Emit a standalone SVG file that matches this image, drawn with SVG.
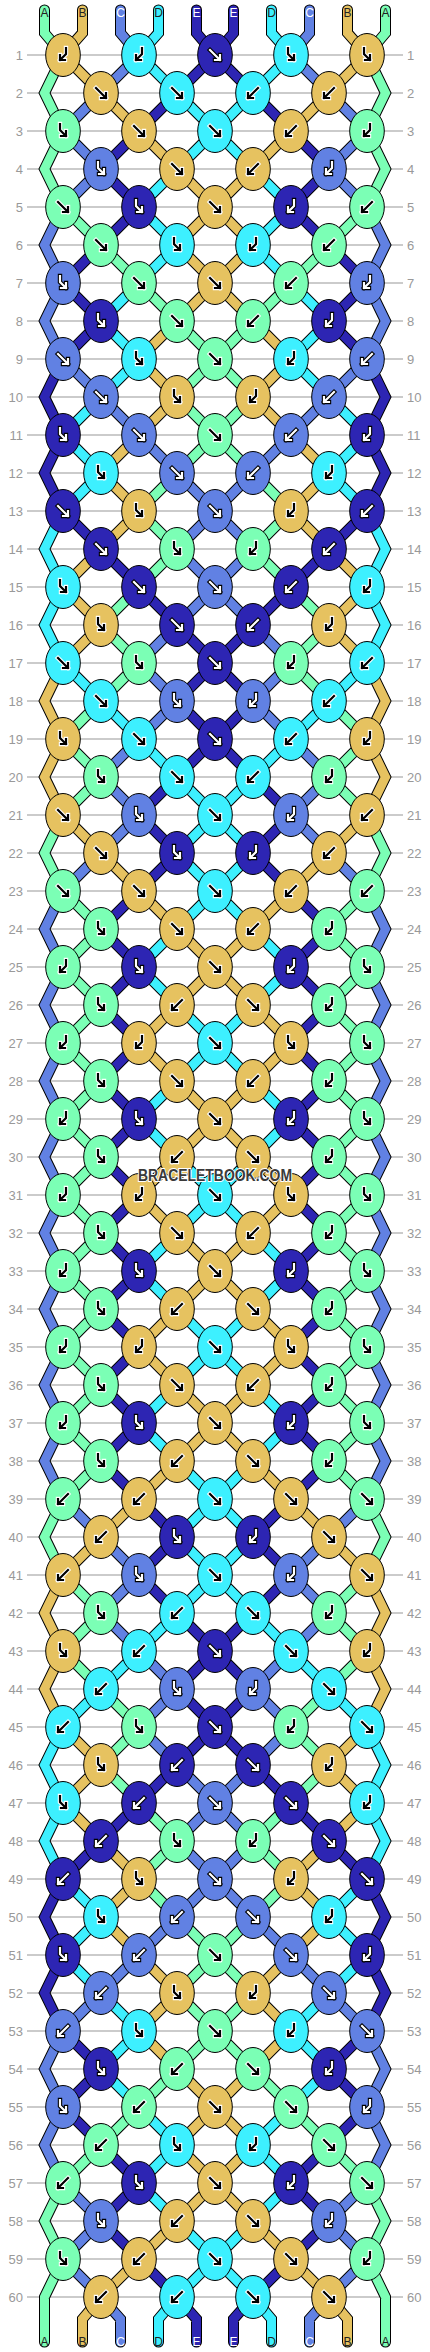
<svg xmlns="http://www.w3.org/2000/svg" xmlns:xlink="http://www.w3.org/1999/xlink" width="430" height="2352" viewBox="0 0 430 2352">
<style>
.grid{stroke:#bbb;stroke-width:1.5;fill:none}
.num{font:13px "Liberation Sans",Arial,sans-serif;fill:#999}
.o use{fill:none;stroke:#000;stroke-width:11;stroke-linejoin:miter;stroke-linecap:round}
.s use{fill:none;stroke-width:9;stroke-linejoin:miter;stroke-linecap:round}
.lab{font:12px "Liberation Sans",Arial,sans-serif;text-anchor:middle}
</style>
<defs>
<path id="tA" d="M44.5 10V33L63 55L44.5 93L63 131L44.5 169L63 207L101 245L139 283L177 321L215 359L177 397L215 435L177 473L139 511L177 549L139 587L101 625L139 663L101 701L63 739L101 777L63 815L44.5 853L63 891L101 929L63 967L101 1005L63 1043L101 1081L63 1119L101 1157L63 1195L101 1233L63 1271L101 1309L63 1347L101 1385L63 1423L101 1461L63 1499L44.5 1537L63 1575L101 1613L63 1651L101 1689L139 1727L101 1765L139 1803L177 1841L139 1879L177 1917L215 1955L177 1993L215 2031L177 2069L139 2107L101 2145L63 2183L44.5 2221L63 2259L44.5 2297V2342"/>
<path id="tB" d="M82.5 10V33L63 55L101 93L139 131L177 169L215 207L177 245L215 283L177 321L139 359L177 397L139 435L101 473L139 511L101 549L63 587L101 625L63 663L44.5 701L63 739L44.5 777L63 815L101 853L139 891L177 929L215 967L177 1005L139 1043L177 1081L215 1119L177 1157L139 1195L177 1233L215 1271L177 1309L139 1347L177 1385L215 1423L177 1461L139 1499L101 1537L63 1575L44.5 1613L63 1651L44.5 1689L63 1727L101 1765L63 1803L101 1841L139 1879L101 1917L139 1955L177 1993L139 2031L177 2069L215 2107L177 2145L215 2183L177 2221L139 2259L101 2297L82.5 2319V2342"/>
<path id="tC" d="M120.5 10V33L139 55L101 93L63 131L101 169L63 207L44.5 245L63 283L44.5 321L63 359L101 397L139 435L177 473L215 511L177 549L215 587L177 625L139 663L177 701L139 739L101 777L139 815L101 853L63 891L44.5 929L63 967L44.5 1005L63 1043L44.5 1081L63 1119L44.5 1157L63 1195L44.5 1233L63 1271L44.5 1309L63 1347L44.5 1385L63 1423L44.5 1461L63 1499L101 1537L139 1575L101 1613L139 1651L177 1689L139 1727L177 1765L215 1803L177 1841L215 1879L177 1917L139 1955L101 1993L63 2031L44.5 2069L63 2107L44.5 2145L63 2183L101 2221L63 2259L101 2297L120.5 2319V2342"/>
<path id="tD" d="M158.5 10V33L139 55L177 93L215 131L177 169L139 207L177 245L139 283L101 321L139 359L101 397L63 435L101 473L63 511L44.5 549L63 587L44.5 625L63 663L101 701L139 739L177 777L215 815L177 853L215 891L177 929L139 967L177 1005L215 1043L177 1081L139 1119L177 1157L215 1195L177 1233L139 1271L177 1309L215 1347L177 1385L139 1423L177 1461L215 1499L177 1537L215 1575L177 1613L139 1651L101 1689L63 1727L44.5 1765L63 1803L44.5 1841L63 1879L101 1917L63 1955L101 1993L139 2031L101 2069L139 2107L177 2145L139 2183L177 2221L215 2259L177 2297L158.5 2319V2342"/>
<path id="tE" d="M196.5 10V33L215 55L177 93L139 131L101 169L139 207L101 245L63 283L101 321L63 359L44.5 397L63 435L44.5 473L63 511L101 549L139 587L177 625L215 663L177 701L215 739L177 777L139 815L177 853L139 891L101 929L139 967L101 1005L139 1043L101 1081L139 1119L101 1157L139 1195L101 1233L139 1271L101 1309L139 1347L101 1385L139 1423L101 1461L139 1499L177 1537L139 1575L177 1613L215 1651L177 1689L215 1727L177 1765L139 1803L101 1841L63 1879L44.5 1917L63 1955L44.5 1993L63 2031L101 2069L63 2107L101 2145L139 2183L101 2221L139 2259L177 2297L196.5 2319V2342"/>
<ellipse id="ka" rx="17.3" ry="21.5" fill="#7BFFB5" stroke="#000"/>
<ellipse id="kb" rx="17.3" ry="21.5" fill="#E6C260" stroke="#000"/>
<ellipse id="kc" rx="17.3" ry="21.5" fill="#6181E3" stroke="#000"/>
<ellipse id="kd" rx="17.3" ry="21.5" fill="#3DF0FF" stroke="#000"/>
<ellipse id="ke" rx="17.3" ry="21.5" fill="#2D25B3" stroke="#000"/>
<path id="pF" fill="none" stroke-linecap="square" d="M-5 -5L5 5M5 0V5H0"/>
<path id="pB" fill="none" stroke-linecap="square" d="M5 -5L-5 5M-5 0V5H0"/>
<path id="pFB" fill="none" stroke-linecap="square" d="M-3 -7V-1L3 5M3 0V5H-2"/>
<path id="pBF" fill="none" stroke-linecap="square" d="M3 -7V-1L-3 5M-3 0V5H2"/>
<g id="FK" stroke="#fff" color="#000"><use href="#pF" stroke-width="4.4"/><use href="#pF" stroke="currentColor" stroke-width="2.2"/></g>
<g id="BK" stroke="#fff" color="#000"><use href="#pB" stroke-width="4.4"/><use href="#pB" stroke="currentColor" stroke-width="2.2"/></g>
<g id="FBK" stroke="#fff" color="#000"><use href="#pFB" stroke-width="4.4"/><use href="#pFB" stroke="currentColor" stroke-width="2.2"/></g>
<g id="BFK" stroke="#fff" color="#000"><use href="#pBF" stroke-width="4.4"/><use href="#pBF" stroke="currentColor" stroke-width="2.2"/></g>
<g id="FW" stroke="#000" color="#fff"><use href="#pF" stroke-width="4.4"/><use href="#pF" stroke="currentColor" stroke-width="2.2"/></g>
<g id="BW" stroke="#000" color="#fff"><use href="#pB" stroke-width="4.4"/><use href="#pB" stroke="currentColor" stroke-width="2.2"/></g>
<g id="FBW" stroke="#000" color="#fff"><use href="#pFB" stroke-width="4.4"/><use href="#pFB" stroke="currentColor" stroke-width="2.2"/></g>
<g id="BFW" stroke="#000" color="#fff"><use href="#pBF" stroke-width="4.4"/><use href="#pBF" stroke="currentColor" stroke-width="2.2"/></g>
<g id="aF"><use href="#ka"/><use href="#FK"/></g>
<g id="aB"><use href="#ka"/><use href="#BK"/></g>
<g id="aFB"><use href="#ka"/><use href="#FBK"/></g>
<g id="aBF"><use href="#ka"/><use href="#BFK"/></g>
<g id="bF"><use href="#kb"/><use href="#FK"/></g>
<g id="bB"><use href="#kb"/><use href="#BK"/></g>
<g id="bFB"><use href="#kb"/><use href="#FBK"/></g>
<g id="bBF"><use href="#kb"/><use href="#BFK"/></g>
<g id="dF"><use href="#kd"/><use href="#FK"/></g>
<g id="dB"><use href="#kd"/><use href="#BK"/></g>
<g id="dFB"><use href="#kd"/><use href="#FBK"/></g>
<g id="dBF"><use href="#kd"/><use href="#BFK"/></g>
<g id="cF"><use href="#kc"/><use href="#FW"/></g>
<g id="cB"><use href="#kc"/><use href="#BW"/></g>
<g id="cFB"><use href="#kc"/><use href="#FBW"/></g>
<g id="cBF"><use href="#kc"/><use href="#BFW"/></g>
<g id="eF"><use href="#ke"/><use href="#FW"/></g>
<g id="eB"><use href="#ke"/><use href="#BW"/></g>
<g id="eFB"><use href="#ke"/><use href="#FBW"/></g>
<g id="eBF"><use href="#ke"/><use href="#BFW"/></g>
</defs>
<rect width="430" height="2352" fill="#fff"/>
<path class="grid" d="M27 55H403M27 93H403M27 131H403M27 169H403M27 207H403M27 245H403M27 283H403M27 321H403M27 359H403M27 397H403M27 435H403M27 473H403M27 511H403M27 549H403M27 587H403M27 625H403M27 663H403M27 701H403M27 739H403M27 777H403M27 815H403M27 853H403M27 891H403M27 929H403M27 967H403M27 1005H403M27 1043H403M27 1081H403M27 1119H403M27 1157H403M27 1195H403M27 1233H403M27 1271H403M27 1309H403M27 1347H403M27 1385H403M27 1423H403M27 1461H403M27 1499H403M27 1537H403M27 1575H403M27 1613H403M27 1651H403M27 1689H403M27 1727H403M27 1765H403M27 1803H403M27 1841H403M27 1879H403M27 1917H403M27 1955H403M27 1993H403M27 2031H403M27 2069H403M27 2107H403M27 2145H403M27 2183H403M27 2221H403M27 2259H403M27 2297H403"/>
<g class="num" text-anchor="end">
<text x="23" y="59.5">1</text><text x="23" y="97.5">2</text><text x="23" y="135.5">3</text><text x="23" y="173.5">4</text><text x="23" y="211.5">5</text><text x="23" y="249.5">6</text><text x="23" y="287.5">7</text><text x="23" y="325.5">8</text><text x="23" y="363.5">9</text><text x="23" y="401.5">10</text><text x="23" y="439.5">11</text><text x="23" y="477.5">12</text><text x="23" y="515.5">13</text><text x="23" y="553.5">14</text><text x="23" y="591.5">15</text><text x="23" y="629.5">16</text><text x="23" y="667.5">17</text><text x="23" y="705.5">18</text><text x="23" y="743.5">19</text><text x="23" y="781.5">20</text><text x="23" y="819.5">21</text><text x="23" y="857.5">22</text><text x="23" y="895.5">23</text><text x="23" y="933.5">24</text><text x="23" y="971.5">25</text><text x="23" y="1009.5">26</text><text x="23" y="1047.5">27</text><text x="23" y="1085.5">28</text><text x="23" y="1123.5">29</text><text x="23" y="1161.5">30</text><text x="23" y="1199.5">31</text><text x="23" y="1237.5">32</text><text x="23" y="1275.5">33</text><text x="23" y="1313.5">34</text><text x="23" y="1351.5">35</text><text x="23" y="1389.5">36</text><text x="23" y="1427.5">37</text><text x="23" y="1465.5">38</text><text x="23" y="1503.5">39</text><text x="23" y="1541.5">40</text><text x="23" y="1579.5">41</text><text x="23" y="1617.5">42</text><text x="23" y="1655.5">43</text><text x="23" y="1693.5">44</text><text x="23" y="1731.5">45</text><text x="23" y="1769.5">46</text><text x="23" y="1807.5">47</text><text x="23" y="1845.5">48</text><text x="23" y="1883.5">49</text><text x="23" y="1921.5">50</text><text x="23" y="1959.5">51</text><text x="23" y="1997.5">52</text><text x="23" y="2035.5">53</text><text x="23" y="2073.5">54</text><text x="23" y="2111.5">55</text><text x="23" y="2149.5">56</text><text x="23" y="2187.5">57</text><text x="23" y="2225.5">58</text><text x="23" y="2263.5">59</text><text x="23" y="2301.5">60</text>
</g>
<g class="num" text-anchor="start">
<text x="407" y="59.5">1</text><text x="407" y="97.5">2</text><text x="407" y="135.5">3</text><text x="407" y="173.5">4</text><text x="407" y="211.5">5</text><text x="407" y="249.5">6</text><text x="407" y="287.5">7</text><text x="407" y="325.5">8</text><text x="407" y="363.5">9</text><text x="407" y="401.5">10</text><text x="407" y="439.5">11</text><text x="407" y="477.5">12</text><text x="407" y="515.5">13</text><text x="407" y="553.5">14</text><text x="407" y="591.5">15</text><text x="407" y="629.5">16</text><text x="407" y="667.5">17</text><text x="407" y="705.5">18</text><text x="407" y="743.5">19</text><text x="407" y="781.5">20</text><text x="407" y="819.5">21</text><text x="407" y="857.5">22</text><text x="407" y="895.5">23</text><text x="407" y="933.5">24</text><text x="407" y="971.5">25</text><text x="407" y="1009.5">26</text><text x="407" y="1047.5">27</text><text x="407" y="1085.5">28</text><text x="407" y="1123.5">29</text><text x="407" y="1161.5">30</text><text x="407" y="1199.5">31</text><text x="407" y="1237.5">32</text><text x="407" y="1275.5">33</text><text x="407" y="1313.5">34</text><text x="407" y="1351.5">35</text><text x="407" y="1389.5">36</text><text x="407" y="1427.5">37</text><text x="407" y="1465.5">38</text><text x="407" y="1503.5">39</text><text x="407" y="1541.5">40</text><text x="407" y="1579.5">41</text><text x="407" y="1617.5">42</text><text x="407" y="1655.5">43</text><text x="407" y="1693.5">44</text><text x="407" y="1731.5">45</text><text x="407" y="1769.5">46</text><text x="407" y="1807.5">47</text><text x="407" y="1845.5">48</text><text x="407" y="1883.5">49</text><text x="407" y="1921.5">50</text><text x="407" y="1959.5">51</text><text x="407" y="1997.5">52</text><text x="407" y="2035.5">53</text><text x="407" y="2073.5">54</text><text x="407" y="2111.5">55</text><text x="407" y="2149.5">56</text><text x="407" y="2187.5">57</text><text x="407" y="2225.5">58</text><text x="407" y="2263.5">59</text><text x="407" y="2301.5">60</text>
</g>
<g id="connectors">
<g class="o">
<use href="#tA"/><use href="#tB"/><use href="#tC"/><use href="#tD"/><use href="#tE"/>
<use href="#tA" transform="matrix(-1 0 0 1 430 0)"/><use href="#tB" transform="matrix(-1 0 0 1 430 0)"/><use href="#tC" transform="matrix(-1 0 0 1 430 0)"/><use href="#tD" transform="matrix(-1 0 0 1 430 0)"/><use href="#tE" transform="matrix(-1 0 0 1 430 0)"/>
</g>
<g class="s">
<use href="#tA" stroke="#7BFFB5"/><use href="#tB" stroke="#E6C260"/><use href="#tC" stroke="#6181E3"/><use href="#tD" stroke="#3DF0FF"/><use href="#tE" stroke="#2D25B3"/>
<use href="#tA" stroke="#7BFFB5" transform="matrix(-1 0 0 1 430 0)"/><use href="#tB" stroke="#E6C260" transform="matrix(-1 0 0 1 430 0)"/><use href="#tC" stroke="#6181E3" transform="matrix(-1 0 0 1 430 0)"/><use href="#tD" stroke="#3DF0FF" transform="matrix(-1 0 0 1 430 0)"/><use href="#tE" stroke="#2D25B3" transform="matrix(-1 0 0 1 430 0)"/>
</g>
</g>
<g class="lab">
<text x="44.5" y="16.5" fill="#222">A</text><text x="82.5" y="16.5" fill="#222">B</text><text x="120.5" y="16.5" fill="#fff">C</text><text x="158.5" y="16.5" fill="#222">D</text><text x="196.5" y="16.5" fill="#fff">E</text><text x="233.5" y="16.5" fill="#fff">E</text><text x="271.5" y="16.5" fill="#222">D</text><text x="309.5" y="16.5" fill="#fff">C</text><text x="347.5" y="16.5" fill="#222">B</text><text x="385.5" y="16.5" fill="#222">A</text>
<text x="44.5" y="2345.5" fill="#222">A</text><text x="82.5" y="2345.5" fill="#222">B</text><text x="120.5" y="2345.5" fill="#fff">C</text><text x="158.5" y="2345.5" fill="#222">D</text><text x="196.5" y="2345.5" fill="#fff">E</text><text x="233.5" y="2345.5" fill="#fff">E</text><text x="271.5" y="2345.5" fill="#222">D</text><text x="309.5" y="2345.5" fill="#fff">C</text><text x="347.5" y="2345.5" fill="#222">B</text><text x="385.5" y="2345.5" fill="#222">A</text>
</g>
<g id="knots">
<g id="n1-1"><use href="#bBF" x="63" y="55"/></g><g id="n1-2"><use href="#dBF" x="139" y="55"/></g><g id="n1-3"><use href="#eF" x="215" y="55"/></g><g id="n1-4"><use href="#dFB" x="291" y="55"/></g><g id="n1-5"><use href="#bFB" x="367" y="55"/></g>
<g id="n2-1"><use href="#bF" x="101" y="93"/></g><g id="n2-2"><use href="#dF" x="177" y="93"/></g><g id="n2-3"><use href="#dB" x="253" y="93"/></g><g id="n2-4"><use href="#bB" x="329" y="93"/></g>
<g id="n3-1"><use href="#aFB" x="63" y="131"/></g><g id="n3-2"><use href="#bF" x="139" y="131"/></g><g id="n3-3"><use href="#dF" x="215" y="131"/></g><g id="n3-4"><use href="#bB" x="291" y="131"/></g><g id="n3-5"><use href="#aBF" x="367" y="131"/></g>
<g id="n4-1"><use href="#cFB" x="101" y="169"/></g><g id="n4-2"><use href="#bF" x="177" y="169"/></g><g id="n4-3"><use href="#bB" x="253" y="169"/></g><g id="n4-4"><use href="#cBF" x="329" y="169"/></g>
<g id="n5-1"><use href="#aF" x="63" y="207"/></g><g id="n5-2"><use href="#eFB" x="139" y="207"/></g><g id="n5-3"><use href="#bF" x="215" y="207"/></g><g id="n5-4"><use href="#eBF" x="291" y="207"/></g><g id="n5-5"><use href="#aB" x="367" y="207"/></g>
<g id="n6-1"><use href="#aF" x="101" y="245"/></g><g id="n6-2"><use href="#dFB" x="177" y="245"/></g><g id="n6-3"><use href="#dBF" x="253" y="245"/></g><g id="n6-4"><use href="#aB" x="329" y="245"/></g>
<g id="n7-1"><use href="#cFB" x="63" y="283"/></g><g id="n7-2"><use href="#aF" x="139" y="283"/></g><g id="n7-3"><use href="#bF" x="215" y="283"/></g><g id="n7-4"><use href="#aB" x="291" y="283"/></g><g id="n7-5"><use href="#cBF" x="367" y="283"/></g>
<g id="n8-1"><use href="#eFB" x="101" y="321"/></g><g id="n8-2"><use href="#aF" x="177" y="321"/></g><g id="n8-3"><use href="#aB" x="253" y="321"/></g><g id="n8-4"><use href="#eBF" x="329" y="321"/></g>
<g id="n9-1"><use href="#cF" x="63" y="359"/></g><g id="n9-2"><use href="#dFB" x="139" y="359"/></g><g id="n9-3"><use href="#aF" x="215" y="359"/></g><g id="n9-4"><use href="#dBF" x="291" y="359"/></g><g id="n9-5"><use href="#cB" x="367" y="359"/></g>
<g id="n10-1"><use href="#cF" x="101" y="397"/></g><g id="n10-2"><use href="#bFB" x="177" y="397"/></g><g id="n10-3"><use href="#bBF" x="253" y="397"/></g><g id="n10-4"><use href="#cB" x="329" y="397"/></g>
<g id="n11-1"><use href="#eFB" x="63" y="435"/></g><g id="n11-2"><use href="#cF" x="139" y="435"/></g><g id="n11-3"><use href="#aF" x="215" y="435"/></g><g id="n11-4"><use href="#cB" x="291" y="435"/></g><g id="n11-5"><use href="#eBF" x="367" y="435"/></g>
<g id="n12-1"><use href="#dFB" x="101" y="473"/></g><g id="n12-2"><use href="#cF" x="177" y="473"/></g><g id="n12-3"><use href="#cB" x="253" y="473"/></g><g id="n12-4"><use href="#dBF" x="329" y="473"/></g>
<g id="n13-1"><use href="#eF" x="63" y="511"/></g><g id="n13-2"><use href="#bFB" x="139" y="511"/></g><g id="n13-3"><use href="#cF" x="215" y="511"/></g><g id="n13-4"><use href="#bBF" x="291" y="511"/></g><g id="n13-5"><use href="#eB" x="367" y="511"/></g>
<g id="n14-1"><use href="#eF" x="101" y="549"/></g><g id="n14-2"><use href="#aFB" x="177" y="549"/></g><g id="n14-3"><use href="#aBF" x="253" y="549"/></g><g id="n14-4"><use href="#eB" x="329" y="549"/></g>
<g id="n15-1"><use href="#dFB" x="63" y="587"/></g><g id="n15-2"><use href="#eF" x="139" y="587"/></g><g id="n15-3"><use href="#cF" x="215" y="587"/></g><g id="n15-4"><use href="#eB" x="291" y="587"/></g><g id="n15-5"><use href="#dBF" x="367" y="587"/></g>
<g id="n16-1"><use href="#bFB" x="101" y="625"/></g><g id="n16-2"><use href="#eF" x="177" y="625"/></g><g id="n16-3"><use href="#eB" x="253" y="625"/></g><g id="n16-4"><use href="#bBF" x="329" y="625"/></g>
<g id="n17-1"><use href="#dF" x="63" y="663"/></g><g id="n17-2"><use href="#aFB" x="139" y="663"/></g><g id="n17-3"><use href="#eF" x="215" y="663"/></g><g id="n17-4"><use href="#aBF" x="291" y="663"/></g><g id="n17-5"><use href="#dB" x="367" y="663"/></g>
<g id="n18-1"><use href="#dF" x="101" y="701"/></g><g id="n18-2"><use href="#cFB" x="177" y="701"/></g><g id="n18-3"><use href="#cBF" x="253" y="701"/></g><g id="n18-4"><use href="#dB" x="329" y="701"/></g>
<g id="n19-1"><use href="#bFB" x="63" y="739"/></g><g id="n19-2"><use href="#dF" x="139" y="739"/></g><g id="n19-3"><use href="#eF" x="215" y="739"/></g><g id="n19-4"><use href="#dB" x="291" y="739"/></g><g id="n19-5"><use href="#bBF" x="367" y="739"/></g>
<g id="n20-1"><use href="#aFB" x="101" y="777"/></g><g id="n20-2"><use href="#dF" x="177" y="777"/></g><g id="n20-3"><use href="#dB" x="253" y="777"/></g><g id="n20-4"><use href="#aBF" x="329" y="777"/></g>
<g id="n21-1"><use href="#bF" x="63" y="815"/></g><g id="n21-2"><use href="#cFB" x="139" y="815"/></g><g id="n21-3"><use href="#dF" x="215" y="815"/></g><g id="n21-4"><use href="#cBF" x="291" y="815"/></g><g id="n21-5"><use href="#bB" x="367" y="815"/></g>
<g id="n22-1"><use href="#bF" x="101" y="853"/></g><g id="n22-2"><use href="#eFB" x="177" y="853"/></g><g id="n22-3"><use href="#eBF" x="253" y="853"/></g><g id="n22-4"><use href="#bB" x="329" y="853"/></g>
<g id="n23-1"><use href="#aF" x="63" y="891"/></g><g id="n23-2"><use href="#bF" x="139" y="891"/></g><g id="n23-3"><use href="#dF" x="215" y="891"/></g><g id="n23-4"><use href="#bB" x="291" y="891"/></g><g id="n23-5"><use href="#aB" x="367" y="891"/></g>
<g id="n24-1"><use href="#aFB" x="101" y="929"/></g><g id="n24-2"><use href="#bF" x="177" y="929"/></g><g id="n24-3"><use href="#bB" x="253" y="929"/></g><g id="n24-4"><use href="#aBF" x="329" y="929"/></g>
<g id="n25-1"><use href="#aBF" x="63" y="967"/></g><g id="n25-2"><use href="#eFB" x="139" y="967"/></g><g id="n25-3"><use href="#bF" x="215" y="967"/></g><g id="n25-4"><use href="#eBF" x="291" y="967"/></g><g id="n25-5"><use href="#aFB" x="367" y="967"/></g>
<g id="n26-1"><use href="#aFB" x="101" y="1005"/></g><g id="n26-2"><use href="#bB" x="177" y="1005"/></g><g id="n26-3"><use href="#bF" x="253" y="1005"/></g><g id="n26-4"><use href="#aBF" x="329" y="1005"/></g>
<g id="n27-1"><use href="#aBF" x="63" y="1043"/></g><g id="n27-2"><use href="#bBF" x="139" y="1043"/></g><g id="n27-3"><use href="#dF" x="215" y="1043"/></g><g id="n27-4"><use href="#bFB" x="291" y="1043"/></g><g id="n27-5"><use href="#aFB" x="367" y="1043"/></g>
<g id="n28-1"><use href="#aFB" x="101" y="1081"/></g><g id="n28-2"><use href="#bF" x="177" y="1081"/></g><g id="n28-3"><use href="#bB" x="253" y="1081"/></g><g id="n28-4"><use href="#aBF" x="329" y="1081"/></g>
<g id="n29-1"><use href="#aBF" x="63" y="1119"/></g><g id="n29-2"><use href="#eFB" x="139" y="1119"/></g><g id="n29-3"><use href="#bF" x="215" y="1119"/></g><g id="n29-4"><use href="#eBF" x="291" y="1119"/></g><g id="n29-5"><use href="#aFB" x="367" y="1119"/></g>
<g id="n30-1"><use href="#aFB" x="101" y="1157"/></g><g id="n30-2"><use href="#bB" x="177" y="1157"/></g><g id="n30-3"><use href="#bF" x="253" y="1157"/></g><g id="n30-4"><use href="#aBF" x="329" y="1157"/></g>
<g id="n31-1"><use href="#aBF" x="63" y="1195"/></g><g id="n31-2"><use href="#bBF" x="139" y="1195"/></g><g id="n31-3"><use href="#dF" x="215" y="1195"/></g><g id="n31-4"><use href="#bFB" x="291" y="1195"/></g><g id="n31-5"><use href="#aFB" x="367" y="1195"/></g>
<g id="n32-1"><use href="#aFB" x="101" y="1233"/></g><g id="n32-2"><use href="#bF" x="177" y="1233"/></g><g id="n32-3"><use href="#bB" x="253" y="1233"/></g><g id="n32-4"><use href="#aBF" x="329" y="1233"/></g>
<g id="n33-1"><use href="#aBF" x="63" y="1271"/></g><g id="n33-2"><use href="#eFB" x="139" y="1271"/></g><g id="n33-3"><use href="#bF" x="215" y="1271"/></g><g id="n33-4"><use href="#eBF" x="291" y="1271"/></g><g id="n33-5"><use href="#aFB" x="367" y="1271"/></g>
<g id="n34-1"><use href="#aFB" x="101" y="1309"/></g><g id="n34-2"><use href="#bB" x="177" y="1309"/></g><g id="n34-3"><use href="#bF" x="253" y="1309"/></g><g id="n34-4"><use href="#aBF" x="329" y="1309"/></g>
<g id="n35-1"><use href="#aBF" x="63" y="1347"/></g><g id="n35-2"><use href="#bBF" x="139" y="1347"/></g><g id="n35-3"><use href="#dF" x="215" y="1347"/></g><g id="n35-4"><use href="#bFB" x="291" y="1347"/></g><g id="n35-5"><use href="#aFB" x="367" y="1347"/></g>
<g id="n36-1"><use href="#aFB" x="101" y="1385"/></g><g id="n36-2"><use href="#bF" x="177" y="1385"/></g><g id="n36-3"><use href="#bB" x="253" y="1385"/></g><g id="n36-4"><use href="#aBF" x="329" y="1385"/></g>
<g id="n37-1"><use href="#aBF" x="63" y="1423"/></g><g id="n37-2"><use href="#eFB" x="139" y="1423"/></g><g id="n37-3"><use href="#bF" x="215" y="1423"/></g><g id="n37-4"><use href="#eBF" x="291" y="1423"/></g><g id="n37-5"><use href="#aFB" x="367" y="1423"/></g>
<g id="n38-1"><use href="#aFB" x="101" y="1461"/></g><g id="n38-2"><use href="#bB" x="177" y="1461"/></g><g id="n38-3"><use href="#bF" x="253" y="1461"/></g><g id="n38-4"><use href="#aBF" x="329" y="1461"/></g>
<g id="n39-1"><use href="#aB" x="63" y="1499"/></g><g id="n39-2"><use href="#bB" x="139" y="1499"/></g><g id="n39-3"><use href="#dF" x="215" y="1499"/></g><g id="n39-4"><use href="#bF" x="291" y="1499"/></g><g id="n39-5"><use href="#aF" x="367" y="1499"/></g>
<g id="n40-1"><use href="#bB" x="101" y="1537"/></g><g id="n40-2"><use href="#eFB" x="177" y="1537"/></g><g id="n40-3"><use href="#eBF" x="253" y="1537"/></g><g id="n40-4"><use href="#bF" x="329" y="1537"/></g>
<g id="n41-1"><use href="#bB" x="63" y="1575"/></g><g id="n41-2"><use href="#cFB" x="139" y="1575"/></g><g id="n41-3"><use href="#dF" x="215" y="1575"/></g><g id="n41-4"><use href="#cBF" x="291" y="1575"/></g><g id="n41-5"><use href="#bF" x="367" y="1575"/></g>
<g id="n42-1"><use href="#aFB" x="101" y="1613"/></g><g id="n42-2"><use href="#dB" x="177" y="1613"/></g><g id="n42-3"><use href="#dF" x="253" y="1613"/></g><g id="n42-4"><use href="#aBF" x="329" y="1613"/></g>
<g id="n43-1"><use href="#bFB" x="63" y="1651"/></g><g id="n43-2"><use href="#dB" x="139" y="1651"/></g><g id="n43-3"><use href="#eF" x="215" y="1651"/></g><g id="n43-4"><use href="#dF" x="291" y="1651"/></g><g id="n43-5"><use href="#bBF" x="367" y="1651"/></g>
<g id="n44-1"><use href="#dB" x="101" y="1689"/></g><g id="n44-2"><use href="#cFB" x="177" y="1689"/></g><g id="n44-3"><use href="#cBF" x="253" y="1689"/></g><g id="n44-4"><use href="#dF" x="329" y="1689"/></g>
<g id="n45-1"><use href="#dB" x="63" y="1727"/></g><g id="n45-2"><use href="#aFB" x="139" y="1727"/></g><g id="n45-3"><use href="#eF" x="215" y="1727"/></g><g id="n45-4"><use href="#aBF" x="291" y="1727"/></g><g id="n45-5"><use href="#dF" x="367" y="1727"/></g>
<g id="n46-1"><use href="#bFB" x="101" y="1765"/></g><g id="n46-2"><use href="#eB" x="177" y="1765"/></g><g id="n46-3"><use href="#eF" x="253" y="1765"/></g><g id="n46-4"><use href="#bBF" x="329" y="1765"/></g>
<g id="n47-1"><use href="#dFB" x="63" y="1803"/></g><g id="n47-2"><use href="#eB" x="139" y="1803"/></g><g id="n47-3"><use href="#cF" x="215" y="1803"/></g><g id="n47-4"><use href="#eF" x="291" y="1803"/></g><g id="n47-5"><use href="#dBF" x="367" y="1803"/></g>
<g id="n48-1"><use href="#eB" x="101" y="1841"/></g><g id="n48-2"><use href="#aFB" x="177" y="1841"/></g><g id="n48-3"><use href="#aBF" x="253" y="1841"/></g><g id="n48-4"><use href="#eF" x="329" y="1841"/></g>
<g id="n49-1"><use href="#eB" x="63" y="1879"/></g><g id="n49-2"><use href="#bFB" x="139" y="1879"/></g><g id="n49-3"><use href="#cF" x="215" y="1879"/></g><g id="n49-4"><use href="#bBF" x="291" y="1879"/></g><g id="n49-5"><use href="#eF" x="367" y="1879"/></g>
<g id="n50-1"><use href="#dFB" x="101" y="1917"/></g><g id="n50-2"><use href="#cB" x="177" y="1917"/></g><g id="n50-3"><use href="#cF" x="253" y="1917"/></g><g id="n50-4"><use href="#dBF" x="329" y="1917"/></g>
<g id="n51-1"><use href="#eFB" x="63" y="1955"/></g><g id="n51-2"><use href="#cB" x="139" y="1955"/></g><g id="n51-3"><use href="#aF" x="215" y="1955"/></g><g id="n51-4"><use href="#cF" x="291" y="1955"/></g><g id="n51-5"><use href="#eBF" x="367" y="1955"/></g>
<g id="n52-1"><use href="#cB" x="101" y="1993"/></g><g id="n52-2"><use href="#bFB" x="177" y="1993"/></g><g id="n52-3"><use href="#bBF" x="253" y="1993"/></g><g id="n52-4"><use href="#cF" x="329" y="1993"/></g>
<g id="n53-1"><use href="#cB" x="63" y="2031"/></g><g id="n53-2"><use href="#dFB" x="139" y="2031"/></g><g id="n53-3"><use href="#aF" x="215" y="2031"/></g><g id="n53-4"><use href="#dBF" x="291" y="2031"/></g><g id="n53-5"><use href="#cF" x="367" y="2031"/></g>
<g id="n54-1"><use href="#eFB" x="101" y="2069"/></g><g id="n54-2"><use href="#aB" x="177" y="2069"/></g><g id="n54-3"><use href="#aF" x="253" y="2069"/></g><g id="n54-4"><use href="#eBF" x="329" y="2069"/></g>
<g id="n55-1"><use href="#cFB" x="63" y="2107"/></g><g id="n55-2"><use href="#aB" x="139" y="2107"/></g><g id="n55-3"><use href="#bF" x="215" y="2107"/></g><g id="n55-4"><use href="#aF" x="291" y="2107"/></g><g id="n55-5"><use href="#cBF" x="367" y="2107"/></g>
<g id="n56-1"><use href="#aB" x="101" y="2145"/></g><g id="n56-2"><use href="#dFB" x="177" y="2145"/></g><g id="n56-3"><use href="#dBF" x="253" y="2145"/></g><g id="n56-4"><use href="#aF" x="329" y="2145"/></g>
<g id="n57-1"><use href="#aB" x="63" y="2183"/></g><g id="n57-2"><use href="#eFB" x="139" y="2183"/></g><g id="n57-3"><use href="#bF" x="215" y="2183"/></g><g id="n57-4"><use href="#eBF" x="291" y="2183"/></g><g id="n57-5"><use href="#aF" x="367" y="2183"/></g>
<g id="n58-1"><use href="#cFB" x="101" y="2221"/></g><g id="n58-2"><use href="#bB" x="177" y="2221"/></g><g id="n58-3"><use href="#bF" x="253" y="2221"/></g><g id="n58-4"><use href="#cBF" x="329" y="2221"/></g>
<g id="n59-1"><use href="#aFB" x="63" y="2259"/></g><g id="n59-2"><use href="#bB" x="139" y="2259"/></g><g id="n59-3"><use href="#dF" x="215" y="2259"/></g><g id="n59-4"><use href="#bF" x="291" y="2259"/></g><g id="n59-5"><use href="#aBF" x="367" y="2259"/></g>
<g id="n60-1"><use href="#bB" x="101" y="2297"/></g><g id="n60-2"><use href="#dB" x="177" y="2297"/></g><g id="n60-3"><use href="#dF" x="253" y="2297"/></g><g id="n60-4"><use href="#bF" x="329" y="2297"/></g>
</g>
<text x="215" y="1181" font-family="Liberation Sans,Arial,sans-serif" font-weight="bold" font-size="16" text-anchor="middle" fill="#3a3a3a" stroke="#fff" stroke-width="2" paint-order="stroke" textLength="154" lengthAdjust="spacingAndGlyphs">BRACELETBOOK.COM</text>
</svg>
